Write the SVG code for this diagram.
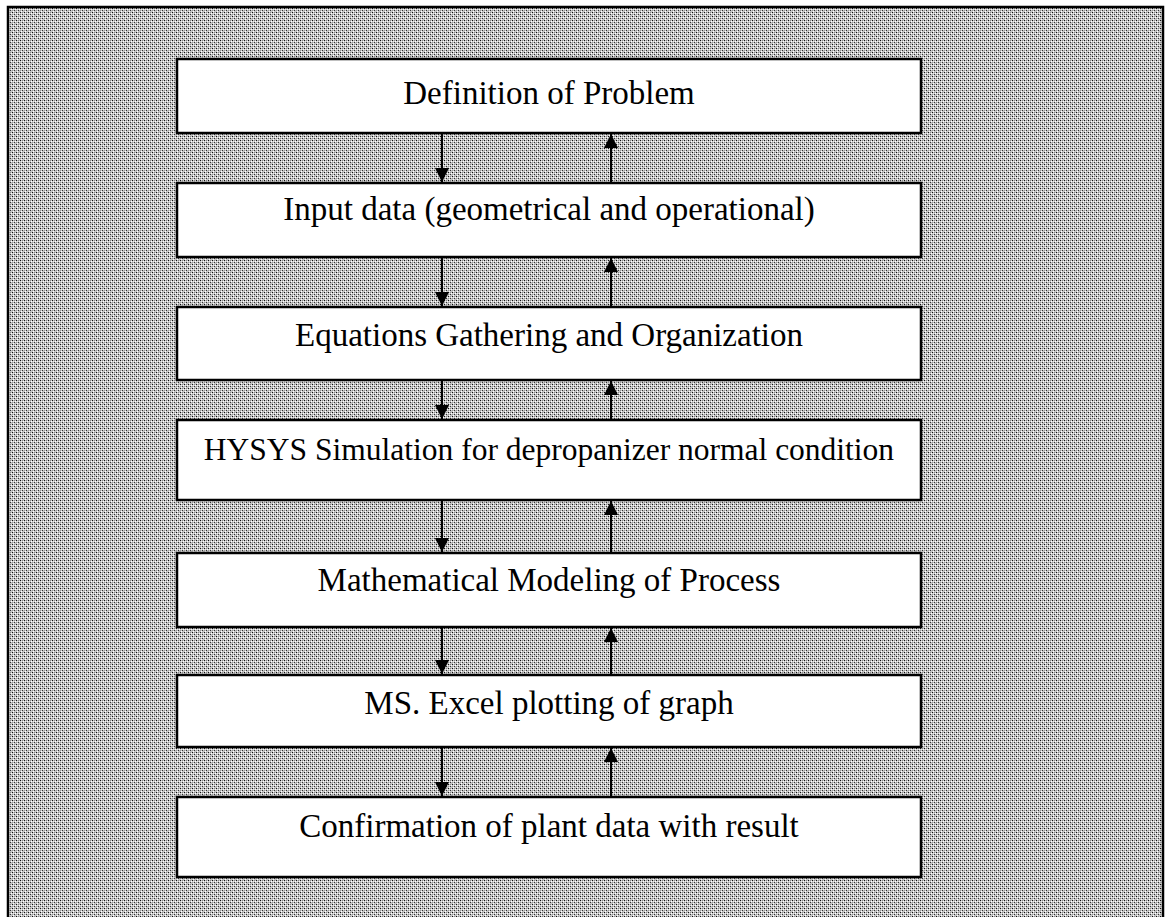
<svg xmlns="http://www.w3.org/2000/svg" width="1166" height="917" viewBox="0 0 1166 917">
  <defs>
    <pattern id="stipple" width="4" height="4" patternUnits="userSpaceOnUse">
      <rect width="4" height="4" fill="#c6c6c6"/>
      <rect x="0" y="0" width="1" height="1" fill="#111"/>
      <rect x="2" y="2" width="1" height="1" fill="#333"/>
      <rect x="1" y="3" width="1" height="1" fill="#fff"/>
      <rect x="3" y="1" width="1" height="1" fill="#fff"/>
      <rect x="2" y="0" width="1" height="1" fill="#888"/>
      <rect x="0" y="2" width="1" height="1" fill="#999"/>
      <rect x="1" y="1" width="1" height="1" fill="#eee"/>
    </pattern>
    <marker id="head" viewBox="0 0 10 10" refX="10" refY="5" markerWidth="14" markerHeight="14" markerUnits="userSpaceOnUse" orient="auto">
      <path d="M0,0 L10,5 L0,10 z" fill="#000"/>
    </marker>
  </defs>
  <style>
    .box { fill: #fff; stroke: #000; stroke-width: 2.5; }
    .lbl { font-family: "Liberation Serif", "Times New Roman", serif; font-size: 33px; fill: #000; text-anchor: middle; }
    .arr { stroke: #000; stroke-width: 2; fill: none; marker-end: url(#head); }
  </style>
  <rect width="1166" height="917" fill="#fff"/>
  <rect id="frame" x="8" y="7" width="1155" height="920" fill="url(#stipple)" stroke="#000" stroke-width="2.5"/>

  <g id="connectors">
    <line class="arr" x1="442" y1="134" x2="442" y2="182"/>
    <line class="arr" x1="611" y1="182" x2="611" y2="134"/>
    <line class="arr" x1="442" y1="258" x2="442" y2="306"/>
    <line class="arr" x1="611" y1="306" x2="611" y2="258"/>
    <line class="arr" x1="442" y1="381" x2="442" y2="419"/>
    <line class="arr" x1="611" y1="419" x2="611" y2="381"/>
    <line class="arr" x1="442" y1="501" x2="442" y2="552"/>
    <line class="arr" x1="611" y1="552" x2="611" y2="501"/>
    <line class="arr" x1="442" y1="628" x2="442" y2="674"/>
    <line class="arr" x1="611" y1="674" x2="611" y2="628"/>
    <line class="arr" x1="442" y1="748" x2="442" y2="796"/>
    <line class="arr" x1="611" y1="796" x2="611" y2="748"/>
  </g>

  <g id="n1"><rect class="box" x="177" y="59" width="744" height="74"/><text class="lbl" x="549" y="104">Definition of Problem</text></g>
  <g id="n2"><rect class="box" x="177" y="183" width="744" height="74"/><text class="lbl" x="549" y="220">Input data (geometrical and operational)</text></g>
  <g id="n3"><rect class="box" x="177" y="307" width="744" height="73"/><text class="lbl" x="549" y="346">Equations Gathering and Organization</text></g>
  <g id="n4"><rect class="box" x="177" y="420" width="744" height="80"/><text class="lbl" x="549" y="460" style="font-size:31.5px">HYSYS Simulation for depropanizer normal condition</text></g>
  <g id="n5"><rect class="box" x="177" y="553" width="744" height="74"/><text class="lbl" x="549" y="591">Mathematical Modeling of Process</text></g>
  <g id="n6"><rect class="box" x="177" y="675" width="744" height="72"/><text class="lbl" x="549" y="714">MS. Excel plotting of graph</text></g>
  <g id="n7"><rect class="box" x="177" y="797" width="744" height="80"/><text class="lbl" x="549" y="837">Confirmation of plant data with result</text></g>
</svg>
